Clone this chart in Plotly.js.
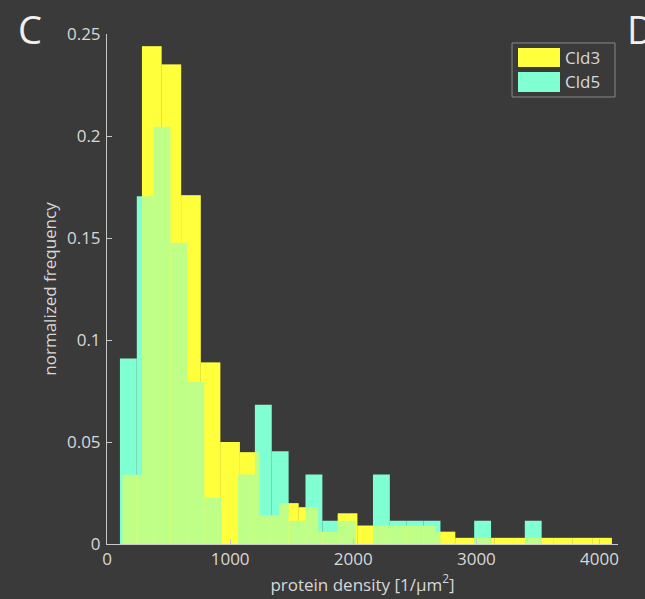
<!DOCTYPE html>
<html>
<head>
<meta charset="utf-8">
<script src="https://cdn.plot.ly/plotly-3.0.1.min.js"></script>
<style>html,body{margin:0;padding:0;background:#3a3a3a;}#chart{width:645px;height:599px;}</style>
</head>
<body>
<div id="chart"></div>
<script>
// Bin lower edges (protein density, 1/µm²)
const cld3Edges = [125, 284, 443, 602, 761, 920, 1079, 1238, 1397, 1556, 1715, 1874, 2033,
                   2192, 2351, 2510, 2669, 2828, 2987, 3146, 3305, 3464, 3623, 3782, 3941];
const cld3BinWidth = 159;
const cld3Values = [0.034, 0.244, 0.235, 0.171, 0.089, 0.050, 0.045, 0.014, 0.020, 0.018, 0.006, 0.015, 0.009,
                    0.009, 0.009, 0.009, 0.006, 0.003, 0.003, 0.003, 0.003, 0.003, 0.003, 0.003, 0.003];

const cld5Edges = [105, 242, 379, 516, 653, 790, 927, 1064, 1201, 1338, 1475, 1612, 1749,
                   1886, 2023, 2160, 2297, 2434, 2571, 2708, 2845, 2982, 3119, 3256, 3393];
const cld5BinWidth = 137;
const cld5Values = [0.0909, 0.1705, 0.2045, 0.1477, 0.0795, 0.0227, 0, 0.0341, 0.0682, 0.0455, 0.0114, 0.0341, 0.0114,
                    0.0114, 0, 0.0341, 0.0114, 0.0114, 0.0114, 0, 0, 0.0114, 0, 0, 0.0114];

const seriesNames = ['Cld3', 'Cld5'];
const xTicks = [0, 1000, 2000, 3000, 4000];
const yTicks = [0, 0.05, 0.1, 0.15, 0.2, 0.25];
const yTickText = ['0', '0.05', '0.1', '0.15', '0.2', '0.25'];

const YELLOW = '#ffff3c';
const CYAN = '#80ffd2';
const AXIS = '#c8c8c8';
const TEXT = '#d8d8d8';
const BG = '#3a3a3a';
const FONT = '"Open Sans", "Noto Sans", sans-serif';
const FS = 17;

const traces = [
  {type: 'bar', x: cld3Edges, y: cld3Values, width: cld3BinWidth, offset: 0, name: seriesNames[0],
   marker: {color: YELLOW, line: {width: 0}}, showlegend: false},
  {type: 'bar', x: cld5Edges, y: cld5Values, width: cld5BinWidth, offset: 0, name: seriesNames[1],
   marker: {color: CYAN, line: {width: 0}}, showlegend: false},
  {type: 'bar', x: cld3Edges, y: cld3Values, width: cld3BinWidth, offset: 0, name: seriesNames[0],
   marker: {color: YELLOW, opacity: 0.5, line: {width: 0}}, showlegend: false}
];

const layout = {
  width: 645, height: 599,
  paper_bgcolor: BG, plot_bgcolor: BG,
  margin: {l: 107, r: 27, t: 34, b: 55},
  barmode: 'overlay',
  font: {family: FONT, color: TEXT, size: FS},
  showlegend: false,
  xaxis: {
    range: [0, 4150], tickvals: xTicks, ticktext: xTicks.map(String),
    showline: true, linecolor: AXIS, linewidth: 1, ticks: 'inside', ticklen: 5, tickcolor: AXIS,
    showgrid: false, zeroline: false, tickfont: {size: FS, color: TEXT},
    title: {text: 'protein density [1/µm<sup>2</sup>]', font: {size: FS, color: TEXT}, standoff: 2}
  },
  yaxis: {
    range: [0, 0.25], tickvals: yTicks, ticktext: yTickText,
    showline: true, linecolor: AXIS, linewidth: 1, ticks: 'inside', ticklen: 5, tickcolor: AXIS,
    showgrid: false, zeroline: false, tickfont: {size: FS, color: TEXT}, ticklabelstandoff: 2,
    title: {text: 'normalized frequency', font: {size: FS, color: TEXT}, standoff: 6}
  },
  shapes: [
    {type: 'rect', xref: 'paper', yref: 'paper', x0: 0.7926, x1: 0.9941, y0: 0.8765, y1: 0.9824,
     line: {color: '#8a8a8a', width: 1}, fillcolor: BG},
    {type: 'rect', xref: 'paper', yref: 'paper', x0: 0.8043, x1: 0.8865, y0: 0.9353, y1: 0.9725,
     line: {width: 0}, fillcolor: YELLOW},
    {type: 'rect', xref: 'paper', yref: 'paper', x0: 0.8043, x1: 0.8865, y0: 0.8863, y1: 0.9255,
     line: {width: 0}, fillcolor: CYAN}
  ],
  annotations: [
    {xref: 'paper', yref: 'paper', x: 0.8923, y: 0.9549, xanchor: 'left', yanchor: 'middle',
     text: seriesNames[0], showarrow: false, font: {size: FS, color: TEXT}},
    {xref: 'paper', yref: 'paper', x: 0.8923, y: 0.9059, xanchor: 'left', yanchor: 'middle',
     text: seriesNames[1], showarrow: false, font: {size: FS, color: TEXT}},
    {xref: 'paper', yref: 'paper', x: -0.151, y: 1.01, xanchor: 'center', yanchor: 'middle',
     text: 'C', showarrow: false, font: {size: 38, color: '#f0f0f0'}},
    {xref: 'paper', yref: 'paper', x: 1.0137, y: 1.01, xanchor: 'left', yanchor: 'middle',
     text: 'D', showarrow: false, font: {size: 38, color: '#f0f0f0'}}
  ]
};

Plotly.newPlot('chart', traces, layout, {displayModeBar: false, staticPlot: true});
</script>
</body>
</html>
